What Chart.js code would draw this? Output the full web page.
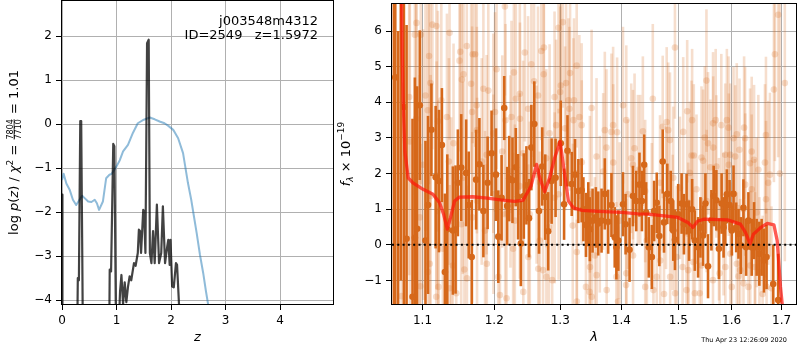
<!DOCTYPE html>
<html>
<head>
<meta charset="utf-8">
<script src="https://cdn.jsdelivr.net/npm/chart.js@4.4.1/dist/chart.umd.min.js"></script>
<style>
  html, body { margin: 0; padding: 0; background: #fff; }
  #wrap { position: relative; width: 800px; height: 350px; overflow: hidden; }
  #pz { position: absolute; left: 0; top: 0; }
  #spec { position: absolute; left: 330px; top: 0; }
</style>
</head>
<body>
<div id="wrap">
  <canvas id="pz" width="340" height="350"></canvas>
  <canvas id="spec" width="470" height="350"></canvas>
</div>
<script>
// ---- left panel: redshift PDF ----
const zTicks = [0, 1, 2, 3, 4];
const logpTicks = [-4, -3, -2, -1, 0, 1, 2];

// log p(z) (dark curve); -6 means "below the axis"
const pzZ = [0.000, 0.008, 0.270, 0.290, 0.310, 0.335, 0.352, 0.372, 0.390, 0.860,
  0.875, 0.900, 0.940, 0.960, 0.990, 1.010, 1.050, 1.065, 1.090, 1.120,
  1.150, 1.180, 1.210, 1.240, 1.270, 1.320, 1.350, 1.390, 1.410, 1.430,
  1.450, 1.490, 1.505, 1.530, 1.560, 1.590, 1.612, 1.640, 1.670, 1.700,
  1.740, 1.780, 1.820, 1.850, 1.890, 1.930, 1.950, 1.975, 1.990, 2.020,
  2.050, 2.090, 2.110, 2.150, 2.200];
const pzLogp = [-1.60, -6.0, -6.0, -3.50, -3.55, 0.07, 0.07, -3.00, -6.0, -6.0,
  -3.31, -3.35, -0.45, -0.50, -4.6, -6.0, -4.3, -3.8, -3.43, -4.1,
  -3.6, -4.05, -3.7, -3.46, -3.55, -3.16, -3.22, -2.93, -2.40, -2.43,
  -2.93, -1.95, -1.98, -2.93, 1.84, 1.92, -2.93, -3.16, -2.43, -3.16,
  -1.83, -3.16, -2.93, -1.87, -3.16, -2.78, -2.63, -3.20, -2.63, -3.69,
  -3.71, -3.16, -3.20, -4.20, -6.0];

// chi2 curve (blue)
const chiZ = [0.00, 0.03, 0.08, 0.14, 0.20, 0.26, 0.31, 0.37, 0.43, 0.48,
  0.54, 0.60, 0.64, 0.68, 0.75, 0.81, 0.87, 0.91, 1.00, 1.06,
  1.12, 1.21, 1.30, 1.39, 1.50, 1.61, 1.70, 1.79, 1.88, 1.95,
  2.04, 2.13, 2.22, 2.31, 2.37, 2.42, 2.47, 2.53, 2.59, 2.64,
  2.68, 2.80];
const chiVal = [-1.27, -1.13, -1.35, -1.49, -1.72, -1.84, -1.74, -1.63, -1.70, -1.76,
  -1.77, -1.72, -1.80, -1.95, -1.76, -1.23, -1.15, -1.13, -0.96, -0.82,
  -0.62, -0.47, -0.20, 0.02, 0.10, 0.15, 0.11, 0.06, 0.02, -0.04,
  -0.13, -0.32, -0.66, -1.34, -1.72, -2.10, -2.48, -2.97, -3.39, -3.80,
  -4.10, -5.00];

const fieldName = 'j003548m4312';
const idLine = 'ID=2549   z=1.5972';

// ---- right panel: spectrum ----
const lamTicks = [1.1, 1.2, 1.3, 1.4, 1.5, 1.6, 1.7];
const fluxTicks = [-1, 0, 1, 2, 3, 4, 5, 6];
const lamRange = [1.0601, 1.73];

const darkLam = [
  1.0625, 1.0643, 1.0680, 1.0715, 1.0755, 1.0790, 1.0868, 1.0899, 1.0929, 1.0964,
  1.1040, 1.1074, 1.1120, 1.1177, 1.1222, 1.1262, 1.1303, 1.1336, 1.1413, 1.1450,
  1.1482, 1.1529, 1.1598, 1.1634, 1.1677, 1.1739, 1.1786, 1.1843, 1.1904, 1.1961,
  1.2025, 1.2059, 1.2107, 1.2146, 1.2190, 1.2219, 1.2268, 1.2318, 1.2352, 1.2393,
  1.2438, 1.2477, 1.2517, 1.2552, 1.2597, 1.2669, 1.2719, 1.2765, 1.2811, 1.2864,
  1.2926, 1.3008, 1.3060, 1.3114, 1.3182, 1.3234, 1.3288, 1.3341, 1.3369, 1.3411,
  1.3449, 1.3475, 1.3519, 1.3573, 1.3612, 1.3667, 1.3721, 1.3777, 1.3832, 1.3887,
  1.3915, 1.3948, 1.4027, 1.4071, 1.4139, 1.4197, 1.4254, 1.4310, 1.4352, 1.4392,
  1.4426, 1.4473, 1.4526, 1.4566, 1.4613, 1.4659, 1.4719, 1.4742, 1.4801, 1.4862,
  1.4908, 1.4939, 1.4998, 1.5060, 1.5102, 1.5151, 1.5198, 1.5253, 1.5303, 1.5364,
  1.5408, 1.5457, 1.5501, 1.5550, 1.5614, 1.5657, 1.5708, 1.5757, 1.5808, 1.5846,
  1.5878, 1.5909, 1.5961, 1.6005, 1.6038, 1.6090, 1.6135, 1.6180, 1.6232, 1.6285,
  1.6330, 1.6395, 1.6442, 1.6494, 1.6548, 1.6594, 1.6642, 1.6693, 1.6829, 1.6930];
const darkFlux = [
  9.0, 4.70, -3.0, 8.0, 3.87, 0.17, -1.46, 0.20, 0.45, 3.92,
  0.12, 1.12, 3.23, 1.90, 1.79, 2.80, -0.76, 0.44, 0.40, 0.43,
  1.74, 2.17, 2.02, 1.12, -0.34, 1.83, 2.26, 0.95, 1.74, 2.57,
  1.97, 0.23, 1.32, 3.84, 1.09, 1.86, 1.81, 2.18, 1.35, 0.04,
  1.37, 1.67, 0.75, 2.73, 3.39, 0.95, 2.20, 1.34, 0.38, 1.79,
  1.88, 2.85, 1.14, 2.64, 1.71, 1.97, 1.51, 1.53, 1.00, 0.56,
  0.86, 0.44, 0.68, 0.77, 0.60, 0.68, 1.43, 0.65, 1.12, 0.21,
  -0.07, 0.12, 1.14, 0.58, -0.14, 1.37, 1.23, 1.69, 1.23, 2.25,
  0.91, -0.07, -0.34, 0.95, 1.18, 0.25, 2.34, 0.63, 1.43, 1.23,
  0.40, 0.14, 0.86, 1.16, 0.58, 1.14, 0.40, 1.00, 0.12, -0.07,
  0.49, 0.26, 1.16, -0.60, 0.69, 1.37, 1.25, -0.11, 1.16, 0.49,
  0.68, 1.42, 1.12, 0.40, 1.43, 0.49, 0.31, -0.02, 1.04, -0.07,
  0.68, -0.07, 0.40, -0.07, -0.25, -0.07, -0.44, -0.34, -1.10, -1.55];
const darkErr = [
  11, 7.5, 9, 9, 6, 6, 5, 4.5, 4, 2.1,
  2.8, 2.5, 1.3, 2.0, 2.0, 1.6, 2.2, 2.1, 1.8, 1.8,
  1.5, 1.5, 1.5, 1.5, 1.6, 1.4, 1.3, 1.3, 1.3, 1.2,
  1.3, 1.3, 1.2, 0.9, 1.1, 1.2, 1.2, 1.1, 1.2, 1.2,
  1.2, 1.1, 1.1, 1.2, 1.2, 1.2, 1.1, 1.2, 1.1, 1.2,
  1.1, 1.2, 1.0, 1.0, 0.9, 1.0, 0.9, 0.9, 0.9, 0.9,
  0.9, 0.9, 0.9, 0.85, 0.9, 0.9, 1.0, 0.9, 0.9, 0.85,
  0.9, 0.85, 0.9, 0.85, 0.9, 0.85, 0.85, 0.9, 0.85, 0.85,
  0.85, 0.85, 0.9, 0.85, 0.85, 0.85, 0.9, 0.85, 0.85, 0.85,
  0.85, 0.85, 0.85, 0.85, 0.85, 0.85, 0.85, 0.85, 0.85, 0.85,
  0.85, 0.85, 0.85, 0.9, 0.85, 0.85, 0.85, 0.85, 0.85, 0.85,
  0.7, 0.7, 0.7, 0.7, 0.8, 0.7, 0.7, 0.8, 0.8, 0.8,
  0.8, 0.8, 0.8, 0.8, 0.9, 0.8, 0.9, 0.9, 1.1, 1.3];

const lightLam = [
  1.0921, 1.0977, 1.1133, 1.1187, 1.1367, 1.0899, 1.1088, 1.1515, 1.1505, 1.1607,
  1.1691, 1.1561, 1.1537, 1.1668, 1.1106, 1.1040, 1.0824, 1.1254, 1.1682, 1.0915,
  1.1208, 1.1331, 1.1071, 1.0833, 1.1422, 1.1358, 1.1008, 1.1190, 1.1551, 1.1110,
  1.0964, 1.1529, 1.1212, 1.1390, 1.1684, 1.1276, 1.1097, 1.1413, 1.1073, 1.1574,
  1.1215, 1.1369, 1.1460, 1.0725, 1.0973, 1.1185, 1.1609, 1.2156, 1.1725, 1.2453,
  1.2704, 1.2745, 1.2552, 1.2034, 1.2289, 1.2741, 1.2593, 1.1843, 1.1914, 1.2378,
  1.2654, 1.2910, 1.2318, 1.1748, 1.2502, 1.2011, 1.2253, 1.2380, 1.2165, 1.2935,
  1.1750, 1.1986, 1.2833, 1.2117, 1.2427, 1.1890, 1.2781, 1.1819, 1.2238, 1.2632,
  1.2377, 1.1988, 1.2912, 1.1752, 1.2160, 1.2528, 1.2303, 1.2822, 1.1867, 1.2680,
  1.2278, 1.2505, 1.1892, 1.2060, 1.2658, 1.2731, 1.2783, 1.2873, 1.2430, 1.2180,
  1.2083, 1.2972, 1.3040, 1.3261, 1.3155, 1.3008, 1.3092, 1.2998, 1.3129, 1.3218,
  1.3503, 1.3145, 1.4027, 1.4083, 1.3304, 1.3209, 1.3341, 1.3721, 1.3832, 1.3927,
  1.3860, 1.3076, 1.3749, 1.4225, 1.3584, 1.3343, 1.4168, 1.3862, 1.4197, 1.4283,
  1.3694, 1.2974, 1.3475, 1.4112, 1.3198, 1.3638, 1.3970, 1.3263, 1.3557, 1.4199,
  1.3477, 1.3586, 1.3915, 1.4084, 1.3411, 1.3470, 1.3752, 1.4080, 1.3505, 1.3264,
  1.3943, 1.4939, 1.5520, 1.4543, 1.5162, 1.5253, 1.4790, 1.5695, 1.5645, 1.5802,
  1.4719, 1.4818, 1.4369, 1.5089, 1.5488, 1.4849, 1.5550, 1.5648, 1.5242, 1.5284,
  1.5427, 1.5457, 1.5595, 1.5708, 1.4323, 1.5211, 1.4908, 1.4671, 1.4409, 1.5029,
  1.5334, 1.4778, 1.5524, 1.4526, 1.4897, 1.5180, 1.5757, 1.4438, 1.4970, 1.4675,
  1.5272, 1.5078, 1.5430, 1.5770, 1.5181, 1.4613, 1.4852, 1.5644, 1.4410, 1.5150,
  1.5303, 1.4554, 1.4742, 1.4942, 1.5395, 1.6930, 1.6863, 1.7067, 1.6843, 1.5909,
  1.5941, 1.6245, 1.6681, 1.6101, 1.6038, 1.6265, 1.6395, 1.6154, 1.5878, 1.5974,
  1.6071, 1.6442, 1.6363, 1.5946, 1.6661, 1.6528, 1.6762, 1.6268, 1.6727, 1.6396,
  1.6683, 1.6494, 1.6232, 1.5846, 1.6460, 1.5880, 1.5975, 1.6102, 1.6168, 1.6366,
  1.6462, 1.6550, 1.6135, 1.6233, 1.6330, 1.6004, 1.6614, 1.6694, 1.6794, 1.6965];
const lightFlux = [
  6.23, 5.90, 6.18, 6.14, 5.95, 5.90, 5.30, 5.42, 5.17, 5.58,
  5.35, 4.79, 4.64, 4.52, 4.54, 4.19, 4.15, 4.06, 3.73, 3.54,
  3.47, 3.59, 3.78, 2.90, 2.85, 2.34, 2.25, 1.95, 1.88, 1.37,
  0.77, 0.58, 0.95, 0.68, 0.77, -0.11, -0.53, -0.58, -0.76, -0.69,
  -1.18, -1.22, -1.36, -1.44, -1.16, -1.46, -0.94, 6.69, 5.35, 5.40,
  5.44, 5.54, 5.07, 4.93, 4.84, 4.79, 4.59, 4.38, 4.33, 4.24,
  4.19, 4.15, 4.10, 3.92, 3.82, 3.73, 3.59, 3.54, 3.50, 3.36,
  3.22, 3.13, 3.13, 2.62, 2.57, 2.53, 2.43, 2.34, 2.06, 1.97,
  1.65, 1.42, 1.32, 1.23, 0.86, 0.86, 0.68, 0.49, 0.40, 0.12,
  -0.11, -0.34, -0.53, -0.90, -0.67, -0.71, -0.90, -0.99, -1.32, -1.50,
  -1.41, 6.09, 6.25, 5.03, 4.82, 4.47, 4.54, 4.29, 4.06, 4.06,
  3.84, 3.82, 3.92, 3.50, 3.59, 3.50, 3.36, 3.22, 3.17, 3.16,
  3.36, 3.27, 2.73, 2.71, 2.48, 2.32, 2.43, 2.31, 2.25, 2.11,
  2.06, 1.42, 1.42, 1.42, 0.54, 0.86, 0.68, -0.20, -0.30, -0.30,
  -0.62, -0.85, -0.90, -0.80, -1.18, -1.32, -1.27, -1.13, -1.46, -1.59,
  -1.59, 5.54, 4.61, 4.10, 3.75, 3.50, 3.45, 3.50, 3.41, 3.36,
  3.31, 3.22, 3.19, 3.17, 3.01, 2.94, 2.85, 2.73, 2.51, 2.51,
  2.45, 2.36, 2.18, 2.20, 2.11, 2.02, 1.88, 1.74, 1.51, 1.60,
  1.56, 1.32, 1.23, 0.86, 0.63, 0.31, 0.44, 0.12, -0.34, -0.44,
  -0.48, -0.62, -0.58, -0.80, -0.71, -0.90, -0.90, -0.99, -1.18, -1.27,
  -1.36, -1.27, -1.38, -1.36, -1.36, 6.46, 5.35, 4.54, 4.36, 3.50,
  3.29, 3.29, 3.08, 3.10, 2.99, 2.99, 2.62, 2.67, 2.53, 2.53,
  2.48, 2.39, 2.29, 2.25, 2.31, 2.11, 1.97, 1.69, 1.74, 1.56,
  1.28, 0.91, 1.00, 0.58, 0.31, -0.62, -0.25, -0.53, -0.71, -0.58,
  -0.62, -0.76, -0.88, -1.08, -1.18, -1.18, -1.38, -1.18, -1.22, 2.00];
const lightErr = [
  4.0, 4.2, 3.5, 3.2, 3.0, 4.5, 3.6, 2.8, 2.9, 2.6,
  2.5, 2.7, 2.8, 2.5, 3.4, 3.8, 5.0, 3.0, 2.4, 4.2,
  3.1, 2.9, 3.5, 5.0, 2.8, 2.9, 3.8, 3.2, 2.7, 3.4,
  4.0, 2.7, 3.1, 2.9, 2.4, 3.0, 3.5, 2.8, 3.5, 2.6,
  3.1, 2.9, 2.8, 6.0, 4.0, 3.2, 2.6, 2.5, 2.6, 2.5,
  2.5, 2.5, 2.6, 2.8, 2.7, 2.5, 2.6, 2.9, 2.8, 2.7,
  2.5, 2.4, 2.7, 2.9, 2.6, 2.8, 2.7, 2.7, 2.7, 2.4,
  2.9, 2.8, 2.5, 2.7, 2.6, 2.8, 2.5, 2.9, 2.7, 2.5,
  2.6, 2.8, 2.4, 2.9, 2.7, 2.6, 2.7, 2.5, 2.8, 2.5,
  2.7, 2.6, 2.8, 2.8, 2.5, 2.5, 2.5, 2.4, 2.6, 2.7,
  2.7, 2.4, 2.4, 2.3, 2.3, 2.4, 2.3, 2.4, 2.3, 2.3,
  2.2, 2.3, 2.2, 2.1, 2.3, 2.3, 2.3, 2.2, 2.2, 2.1,
  2.2, 2.3, 2.2, 2.1, 2.2, 2.3, 2.1, 2.2, 2.1, 2.1,
  2.2, 2.4, 2.2, 2.1, 2.3, 2.2, 2.2, 2.3, 2.2, 2.1,
  2.2, 2.2, 2.1, 2.1, 2.2, 2.2, 2.2, 2.1, 2.2, 2.3,
  2.1, 2.0, 2.0, 2.1, 2.0, 2.0, 2.1, 2.0, 2.0, 2.0,
  2.0, 1.9, 2.1, 2.1, 2.0, 1.9, 2.0, 2.0, 2.1, 2.0,
  2.0, 2.0, 1.9, 2.0, 2.1, 2.0, 2.0, 1.9, 2.0, 2.0,
  2.1, 2.0, 2.0, 2.0, 1.9, 2.0, 2.0, 2.1, 2.0, 2.0,
  2.0, 2.0, 1.9, 2.0, 2.0, 2.0, 2.1, 2.0, 2.0, 2.0,
  2.0, 2.0, 2.0, 2.0, 2.0, 4.0, 3.0, 5.0, 2.6, 2.0,
  2.0, 2.0, 2.2, 2.0, 2.0, 2.0, 2.1, 2.0, 2.0, 2.0,
  2.0, 2.1, 2.1, 2.0, 2.2, 2.1, 2.3, 2.0, 2.3, 2.1,
  2.2, 2.1, 2.0, 2.0, 2.1, 2.0, 2.0, 2.0, 2.0, 2.1,
  2.1, 2.1, 2.0, 2.0, 2.1, 2.0, 2.2, 2.2, 2.3, 6.0];

// best-fit template (red)
const modelLam = [1.0600, 1.0700, 1.0725, 1.0733, 1.0746, 1.0768, 1.0811, 1.0873, 1.1008, 1.1141,
  1.1231, 1.1285, 1.1336, 1.1381, 1.1436, 1.1505, 1.1691, 1.1900, 1.2090, 1.2300,
  1.2427, 1.2547, 1.2632, 1.2680, 1.2756, 1.2833, 1.2910, 1.2997, 1.3055, 1.3129,
  1.3209, 1.3350, 1.3617, 1.4004, 1.4288, 1.4461, 1.4993, 1.5174, 1.5266, 1.5358,
  1.5482, 1.5922, 1.6173, 1.6271, 1.6363, 1.6429, 1.6508, 1.6587, 1.6707, 1.6843,
  1.6910, 1.6978, 1.7013, 1.7054];
const modelFlux = [14, 9, 6.8, 5.4, 4.0, 2.62, 1.88, 1.74, 1.56, 1.42,
  1.18, 0.86, 0.44, 0.77, 1.23, 1.34, 1.35, 1.31, 1.26, 1.22,
  1.25, 1.65, 2.26, 1.88, 1.49, 1.88, 2.43, 2.9, 2.16, 1.23,
  1.04, 0.97, 0.94, 0.91, 0.87, 0.86, 0.77, 0.63, 0.49, 0.67,
  0.72, 0.70, 0.58, 0.35, 0.03, 0.30, 0.40, 0.50, 0.60, 0.56,
  0.12, -1.18, -1.66, -3.0];

const stamp = 'Thu Apr 23 12:26:09 2020';

const FONT = 'DejaVu Sans';
Chart.defaults.font.family = FONT;

const fmtTick = v => (v < 0 ? '\u2212' + Math.abs(v) : String(v));
const xy = (xs, ys) => xs.map((x, i) => ({ x: x, y: ys[i] }));

function axis(min, max, ticks, fmt, isX, type) {
  return {
    type: type || 'linear',
    min: min,
    max: max,
    z: 1,
    afterBuildTicks: s => { s.ticks = ticks.map(v => ({ value: v })); },
    afterFit: s => {
      if (isX) { s.height = 46; s.paddingLeft = 0; s.paddingRight = 0; }
      else { s.width = 62; s.paddingTop = 0; s.paddingBottom = 0; }
    },
    grid: { color: '#b0b0b0', lineWidth: 1, tickLength: 6, tickColor: '#000', tickWidth: 1 },
    border: { display: false },
    ticks: {
      color: '#000', font: { family: FONT, size: 12 }, padding: 4,
      maxRotation: 0, autoSkip: false, callback: fmt
    }
  };
}

// black box round the plot area
const frame = {
  id: 'frame',
  afterDraw(chart) {
    const a = chart.chartArea, ctx = chart.ctx;
    ctx.save();
    ctx.strokeStyle = '#000';
    ctx.lineWidth = 1;
    ctx.strokeRect(Math.round(a.left) - 0.5, Math.round(a.top) - 0.5,
      Math.round(a.right - a.left) + 1, Math.round(a.bottom - a.top) + 1);
    ctx.restore();
  }
};

// vertical error bars for datasets that carry an "errors" array
const errorBars = {
  id: 'errorBars',
  beforeDatasetDraw(chart, args) {
    const ds = chart.data.datasets[args.index];
    if (!ds.errors) return;
    const ctx = chart.ctx, a = chart.chartArea;
    const xs = chart.scales.x, ys = chart.scales.y;
    ctx.save();
    ctx.beginPath();
    ctx.rect(a.left, a.top, a.right - a.left, a.bottom - a.top);
    ctx.clip();
    ctx.strokeStyle = ds.errorColor;
    ctx.lineWidth = ds.errorWidth;
    ds.data.forEach((p, i) => {
      const px = xs.getPixelForValue(p.x);
      ctx.beginPath();
      ctx.moveTo(px, ys.getPixelForValue(p.y - ds.errors[i]));
      ctx.lineTo(px, ys.getPixelForValue(p.y + ds.errors[i]));
      ctx.stroke();
    });
    ctx.restore();
  }
};

// mixed-font text (sub/superscripts, fraction), optionally rotated
function drawRich(ctx, cx, cy, rotate, parts) {
  ctx.save();
  ctx.translate(cx, cy);
  if (rotate) ctx.rotate(-Math.PI / 2);
  ctx.fillStyle = '#000';
  ctx.textBaseline = 'alphabetic';
  let total = 0;
  parts.forEach(p => {
    ctx.font = p.font;
    p.w = p.frac
      ? Math.max(ctx.measureText(p.frac[0]).width, ctx.measureText(p.frac[1]).width) + 2
      : ctx.measureText(p.text).width;
    total += p.w;
  });
  let x = -total / 2;
  parts.forEach(p => {
    ctx.font = p.font;
    if (p.frac) {
      ctx.textAlign = 'center';
      ctx.fillText(p.frac[0], x + p.w / 2, -5);
      ctx.fillText(p.frac[1], x + p.w / 2, 3.4);
      ctx.fillRect(x + 1, -4.3, p.w - 2, 0.8);
    } else {
      ctx.textAlign = 'left';
      ctx.fillText(p.text, x, p.dy || 0);
    }
    x += p.w;
  });
  ctx.restore();
}

const f13 = '13px "' + FONT + '"';
const i13 = 'italic 13px "' + FONT + '"';

const pzText = {
  id: 'pzText',
  afterDraw(chart) {
    const ctx = chart.ctx, a = chart.chartArea;
    ctx.save();
    ctx.fillStyle = '#000';
    ctx.font = f13;
    ctx.textAlign = 'right';
    ctx.textBaseline = 'alphabetic';
    ctx.fillText(fieldName, 318, 25);
    ctx.fillText(idLine, 318, 39);
    ctx.font = i13;
    ctx.textAlign = 'center';
    ctx.textBaseline = 'middle';
    ctx.fillText('z', (a.left + a.right) / 2, 338);
    ctx.restore();
    drawRich(ctx, 18, (a.top + a.bottom) / 2, true, [
      { text: 'log ', font: f13 },
      { text: 'p', font: i13 },
      { text: '(', font: f13 },
      { text: 'z', font: i13 },
      { text: ') / ', font: f13 },
      { text: '\u03c7', font: i13 },
      { text: '2', font: '9px "' + FONT + '"', dy: -5 },
      { text: ' = ', font: f13 },
      { frac: ['7804', '7710'], font: '8px "' + FONT + '"' },
      { text: ' = 1.01', font: f13 }
    ]);
  }
};

const specText = {
  id: 'specText',
  afterDraw(chart) {
    const ctx = chart.ctx, a = chart.chartArea;
    ctx.save();
    ctx.fillStyle = '#000';
    ctx.font = i13;
    ctx.textAlign = 'center';
    ctx.textBaseline = 'middle';
    ctx.fillText('\u03bb', (a.left + a.right) / 2, 338);
    ctx.font = '6.5px "' + FONT + '"';
    ctx.textAlign = 'right';
    ctx.textBaseline = 'alphabetic';
    ctx.fillText(stamp, 457, 342);
    ctx.restore();
    drawRich(ctx, 20, (a.top + a.bottom) / 2, true, [
      { text: 'f', font: i13 },
      { text: '\u03bb', font: 'italic 9px "' + FONT + '"', dy: 3 },
      { text: ' \u00d7 10', font: f13 },
      { text: '\u221219', font: '9px "' + FONT + '"', dy: -6 }
    ]);
  }
};

const common = {
  responsive: false,
  animation: false,
  devicePixelRatio: 1,
  plugins: { legend: { display: false }, tooltip: { enabled: false } }
};

new Chart(document.getElementById('pz'), {
  type: 'scatter',
  data: {
    datasets: [
      { data: xy(pzZ, pzLogp), showLine: true, borderColor: 'rgba(0,0,0,0.74)', borderWidth: 2.2,
        borderJoinStyle: 'round', pointRadius: 0 },
      { data: xy(chiZ, chiVal), showLine: true, borderColor: 'rgba(31,119,180,0.5)', borderWidth: 2,
        borderJoinStyle: 'round', pointRadius: 0 }
    ]
  },
  options: Object.assign({}, common, {
    layout: { padding: { left: 0, right: 7, top: 1, bottom: 0 } },
    scales: {
      x: axis(0, 4.97, zTicks, fmtTick, true),
      y: axis(-4.09, 2.8, logpTicks, fmtTick, false)
    }
  }),
  plugins: [frame, pzText]
});

const orange = 'rgb(214,104,26)';
const orangeLight = 'rgba(214,104,26,0.22)';

new Chart(document.getElementById('spec'), {
  type: 'scatter',
  data: {
    datasets: [
      { type: 'line', data: xy(lamRange, [0, 0]), borderColor: '#000', borderWidth: 2,
        borderDash: [2, 3.3], pointRadius: 0 },
      { type: 'line', data: xy(modelLam, modelFlux), borderColor: 'rgba(255,20,10,0.7)', borderWidth: 3.3,
        borderJoinStyle: 'round', pointRadius: 0 },
      { data: xy(darkLam, darkFlux), errors: darkErr, errorColor: orange, errorWidth: 2.6,
        pointRadius: 3.3, pointBorderWidth: 0, pointBackgroundColor: orange },
      { data: xy(lightLam, lightFlux), errors: lightErr, errorColor: orangeLight, errorWidth: 2.6,
        pointRadius: 3.3, pointBorderWidth: 0, pointBackgroundColor: orangeLight }
    ]
  },
  options: Object.assign({}, common, {
    layout: { padding: { left: 0, right: 1, top: 1, bottom: 0 } },
    scales: {
      x: axis(lamRange[0], lamRange[1], lamTicks, v => Number(v).toFixed(1), true, 'logarithmic'),
      y: axis(-1.66, 6.76, fluxTicks, fmtTick, false)
    }
  }),
  plugins: [errorBars, frame, specText]
});
</script>
</body>
</html>
